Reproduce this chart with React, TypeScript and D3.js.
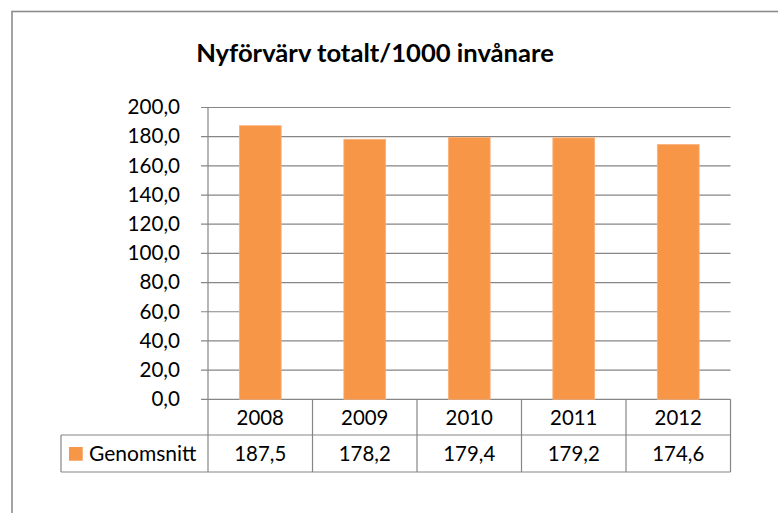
import React from "react";
import * as d3 from "d3";

const title = "Nyförvärv totalt/1000 invånare";
const categories = ["2008", "2009", "2010", "2011", "2012"];
const seriesName = "Genomsnitt";
const values = [187.5, 178.2, 179.4, 179.2, 174.6];
const yTicks = [0, 20, 40, 60, 80, 100, 120, 140, 160, 180, 200];

const W = 778;
const H = 513;
const FONT = "Lato, 'Open Sans', sans-serif";
const GRID = "#868686";
const ORANGE = "#F79646";

const fmt = (v: number) => v.toFixed(1).replace(".", ",");

export default function App() {
  const plotL = 208;
  const plotR = 730.5;
  const x = d3.scaleBand<string>().domain(categories).range([plotL, plotR]).paddingInner(0).paddingOuter(0);
  const y = d3.scaleLinear().domain([0, 200]).range([399.3, 107.5]);
  const barW = x.bandwidth() * 0.4;
  const row1Top = y(0);
  const row1Bot = 435;
  const row2Bot = 472;
  const legendL = 61;

  return (
    <svg width={W} height={H} style={{ position: "absolute", left: 0, top: 0, background: "#fff" }}>
      <rect x={0} y={0} width={W} height={H} fill="#fff" />
      {/* outer frame */}
      <rect x={12} y={11.5} width={W + 20} height={H + 20} fill="none" stroke="#8c8c8c" strokeWidth={1.6} />

      <text x={375} y={62} textAnchor="middle" fontFamily={FONT} fontWeight={700} fontSize={25.6} fill="#000">
        {title}
      </text>

      {/* gridlines and ticks */}
      {yTicks.map((t) => (
        <g key={t}>
          <line x1={201} x2={plotR} y1={y(t)} y2={y(t)} stroke={GRID} strokeWidth={1.2} />
          <text x={180} y={y(t) + 6.8} textAnchor="end" fontFamily={FONT} fontSize={20.6} fill="#000">
            {fmt(t)}
          </text>
        </g>
      ))}
      <line x1={plotL} x2={plotL} y1={y(200)} y2={row2Bot} stroke={GRID} strokeWidth={1.2} />

      {/* bars */}
      {values.map((v, i) => {
        const cx = (x(categories[i]) as number) + x.bandwidth() / 2;
        return (
          <rect
            key={categories[i]}
            x={cx - barW / 2}
            y={y(v)}
            width={barW}
            height={y(0) - y(v)}
            fill={ORANGE}
            stroke="#F9B07A"
            strokeWidth={0.8}
          />
        );
      })}

      {/* data table */}
      <line x1={legendL} x2={plotR} y1={row1Bot} y2={row1Bot} stroke={GRID} strokeWidth={1.2} />
      <line x1={legendL} x2={plotR} y1={row2Bot} y2={row2Bot} stroke={GRID} strokeWidth={1.2} />
      <line x1={legendL} x2={legendL} y1={row1Bot} y2={row2Bot} stroke={GRID} strokeWidth={1.2} />
      {categories.map((c) => {
        const bx = (x(c) as number) + x.bandwidth();
        return <line key={"v" + c} x1={bx} x2={bx} y1={row1Top} y2={row2Bot} stroke={GRID} strokeWidth={1.2} />;
      })}
      {categories.map((c, i) => {
        const cx = (x(c) as number) + x.bandwidth() / 2;
        return (
          <g key={"t" + c}>
            <text x={cx} y={(row1Top + row1Bot) / 2 + 7.6} textAnchor="middle" fontFamily={FONT} fontSize={20.4} fill="#000">
              {c}
            </text>
            <text x={cx} y={(row1Bot + row2Bot) / 2 + 7.4} textAnchor="middle" fontFamily={FONT} fontSize={20.4} fill="#000">
              {fmt(values[i])}
            </text>
          </g>
        );
      })}
      <rect x={69} y={447} width={13.7} height={13.7} fill={ORANGE} />
      <text x={89} y={461} fontFamily={FONT} fontSize={21} fill="#000">
        {seriesName}
      </text>
    </svg>
  );
}
